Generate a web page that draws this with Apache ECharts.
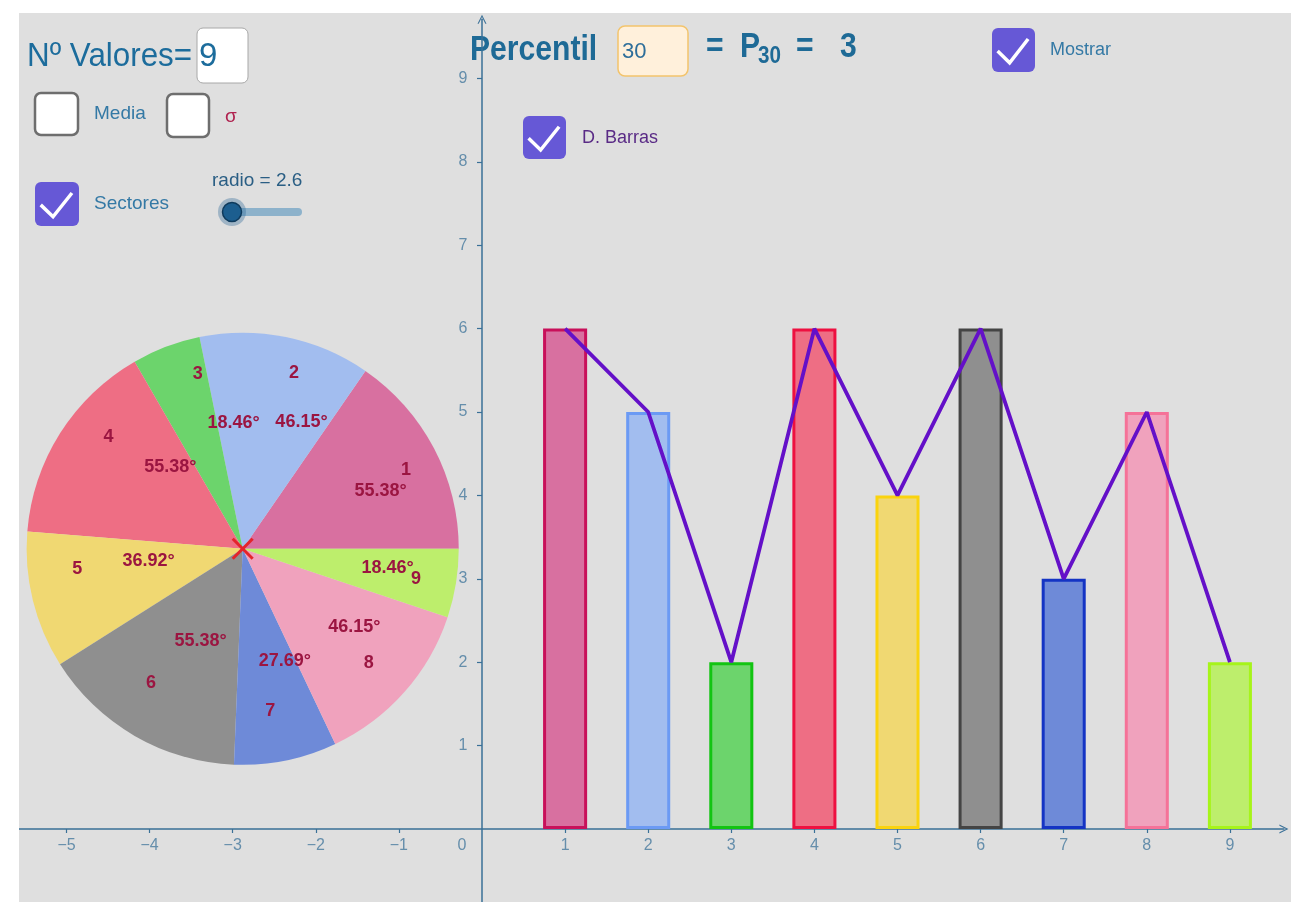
<!DOCTYPE html>
<html>
<head>
<meta charset="utf-8">
<title>Percentil</title>
<script src="https://cdn.jsdelivr.net/npm/echarts@6/dist/echarts.min.js"></script>
<style>
  html, body { margin: 0; padding: 0; background: #fff; }
  #chart { position: absolute; left: 19px; top: 13px; width: 1272px; height: 889px; }
</style>
</head>
<body>
<div id="chart"></div>
<script>
// datos
const categories = [1, 2, 3, 4, 5, 6, 7, 8, 9];
const values = [6, 5, 2, 6, 4, 6, 3, 5, 2];
const fillColors = ['#D870A0', '#A2BDEF', '#6CD46C', '#EE6E84', '#F0D872', '#8F8F8F', '#6E8AD8', '#F0A2BD', '#BDEE6C'];
const borderColors = ['#C8105A', '#6B9AF4', '#12C412', '#EE1040', '#FAD30E', '#444444', '#1434C4', '#F57298', '#A6F41A'];
const xTicks = [-5, -4, -3, -2, -1, 1, 2, 3, 4, 5, 6, 7, 8, 9];
const yTicks = [1, 2, 3, 4, 5, 6, 7, 8, 9];
const pieCenter = [-2.88, 3.36];
const pieRadius = 2.6;
const percentil = 30;

const total = values.reduce((a, b) => a + b, 0);
const sorted = values.slice().sort((a, b) => a - b);
const pValue = sorted[Math.ceil(percentil / 100 * sorted.length) - 1];

// vista (px dentro del panel)
const W = 1272, H = 889;
const ox = 463, oy = 816, ux = 83.1, uy = 83.4;
const xMin = -6, xMax = 9.65, yMin = -1, yMax = 9.71;

const axisColor = '#3A7097';
const labelColor = '#46799D';
const sliceText = '#9B1541';
const sans = '"Liberation Sans", Arial, sans-serif';
const arrow = 'path://M0,12 L6,0 L12,12 L10.4,12 L6,3.2 L1.6,12 Z';
const fmt = v => v < 0 ? '\u2212' + (-v) : String(v);

function renderSlice(params, api) {
  const i = params.dataIndex;
  const c = api.coord(pieCenter);
  const r = api.size([pieRadius, pieRadius])[0];
  let before = 0;
  for (let k = 0; k < i; k++) before += values[k];
  const a0 = before / total * 2 * Math.PI;
  const a1 = (before + api.value(1)) / total * 2 * Math.PI;
  const mid = (a0 + a1) / 2 - 4 * Math.PI / 180;
  const deg = (api.value(1) * 360 / total).toFixed(2) + '°';
  const font = 'bold 18px ' + sans;
  const children = [
    {
      type: 'sector',
      shape: { cx: c[0], cy: c[1], r0: 0, r: r, startAngle: -a0, endAngle: -a1, clockwise: false },
      style: { fill: fillColors[i] }
    },
    {
      type: 'text', z2: 10,
      style: {
        x: c[0] + 0.8 * r * Math.cos(mid), y: c[1] - 0.8 * r * Math.sin(mid),
        text: String(categories[i]), align: 'left', verticalAlign: 'bottom', fill: sliceText, font: font
      }
    },
    {
      type: 'text', z2: 10,
      style: {
        x: c[0] + 0.565 * r * Math.cos(mid), y: c[1] - 0.565 * r * Math.sin(mid),
        text: deg, align: 'left', verticalAlign: 'bottom', fill: sliceText, font: font
      }
    }
  ];
  if (i === values.length - 1) {
    children.push(
      { type: 'line', z2: 20, shape: { x1: c[0] - 10, y1: c[1] - 10, x2: c[0] + 10, y2: c[1] + 10 }, style: { stroke: '#E3242B', lineWidth: 3 } },
      { type: 'line', z2: 20, shape: { x1: c[0] - 10, y1: c[1] + 10, x2: c[0] + 10, y2: c[1] - 10 }, style: { stroke: '#E3242B', lineWidth: 3 } }
    );
  }
  return { type: 'group', children: children };
}

function checkbox(x, y, w, h, checked) {
  const els = [{
    type: 'rect', shape: { x: x, y: y, width: w, height: h, r: 6 },
    style: checked ? { fill: '#6658D6' } : { fill: '#fff', stroke: '#6E6E6E', lineWidth: 2.5 }
  }];
  if (checked) {
    els.push({
      type: 'polyline',
      shape: { points: [[x + w * 0.13, y + h * 0.52], [x + w * 0.41, y + h * 0.79], [x + w * 0.84, y + h * 0.25]] },
      style: { stroke: '#fff', lineWidth: 3.5, fill: 'none' }
    });
  }
  return els;
}

function label(x, y, text, size, color, extra) {
  return Object.assign({
    type: 'text', x: x, y: y,
    style: { text: text, x: 0, y: 0, align: 'left', verticalAlign: 'middle', fill: color, font: size + 'px ' + sans }
  }, extra || {});
}

const bigFont = 'bold 35px ' + sans;
const titleColor = '#1E6A96';

const graphics = [].concat(
  [label(8, 44, 'Nº Valores=', 33, '#1C6C9C', { scaleX: 0.95 })],
  [{ type: 'rect', shape: { x: 178, y: 15, width: 51, height: 55, r: 6 }, style: { fill: '#fff', stroke: '#A8A8A8', lineWidth: 1 } }],
  [label(180, 44, String(categories.length), 33, '#1C6C9C')],
  checkbox(16, 80, 43, 42, false),
  [label(75, 101, 'Media', 19, '#3479A5')],
  checkbox(148, 81, 42, 43, false),
  [label(206, 104, 'σ', 19, '#B02350')],
  checkbox(16, 169, 44, 44, true),
  [label(75, 191, 'Sectores', 19, '#3479A5')],
  [label(193, 168, 'radio = ' + pieRadius, 19, '#2A5E84')],
  [
    { type: 'line', shape: { x1: 213, y1: 199, x2: 279, y2: 199 }, style: { stroke: '#8DB2CB', lineWidth: 8, lineCap: 'round' } },
    { type: 'circle', shape: { cx: 213, cy: 199, r: 14 }, style: { fill: 'rgba(40,100,150,0.35)' } },
    { type: 'circle', shape: { cx: 213, cy: 199, r: 9.5 }, style: { fill: '#1C5E8F', stroke: '#0E3A5C', lineWidth: 1.5 } }
  ],
  [{ type: 'text', x: 451, y: 37, scaleX: 0.86, style: { text: 'Percentil', x: 0, y: 0, verticalAlign: 'middle', fill: titleColor, font: bigFont } }],
  [{ type: 'rect', shape: { x: 599, y: 13, width: 70, height: 50, r: 7 }, style: { fill: '#FFF0DB', stroke: '#F3C46C', lineWidth: 1.5 } }],
  [label(603, 39, String(percentil), 22, '#2E6E9A')],
  [
    { type: 'text', x: 687, y: 34, scaleX: 0.86, style: { text: '=', x: 0, y: 0, verticalAlign: 'middle', fill: titleColor, font: bigFont } },
    { type: 'text', x: 721, y: 34, scaleX: 0.86, style: { text: 'P', x: 0, y: 0, verticalAlign: 'middle', fill: titleColor, font: bigFont } },
    { type: 'text', x: 739, y: 43, scaleX: 0.86, style: { text: String(percentil), x: 0, y: 0, verticalAlign: 'middle', fill: titleColor, font: 'bold 24px ' + sans } },
    { type: 'text', x: 777, y: 34, scaleX: 0.86, style: { text: '=', x: 0, y: 0, verticalAlign: 'middle', fill: titleColor, font: bigFont } },
    { type: 'text', x: 821, y: 34, scaleX: 0.86, style: { text: String(pValue), x: 0, y: 0, verticalAlign: 'middle', fill: titleColor, font: bigFont } }
  ],
  checkbox(973, 15, 43, 44, true),
  [label(1031, 37, 'Mostrar', 18, '#3479A5')],
  checkbox(504, 103, 43, 43, true),
  [label(563, 125, 'D. Barras', 18, '#5A2B86')]
);

// etiquetas de los ejes como series sin símbolo (posicionadas por las escalas)
function tickLabelSeries(data, position, distance) {
  return {
    type: 'scatter',
    data: data,
    symbolSize: 1,
    itemStyle: { color: 'rgba(0,0,0,0)' },
    silent: true,
    z: 5,
    label: {
      show: true, position: position, distance: distance,
      color: labelColor, fontSize: 16, fontFamily: sans,
      formatter: p => fmt(position === 'bottom' ? p.value[0] : p.value[1])
    }
  };
}

const xLabelSeries = tickLabelSeries(xTicks.map(v => [v, 0]), 'bottom', 8);
const yLabelSeries = tickLabelSeries(yTicks.map(v => [0, v]), 'left', 14);
const zeroLabelSeries = tickLabelSeries([[0, 0]], 'bottom', 8);
zeroLabelSeries.label.offset = [-20, 0];

const chart = echarts.init(document.getElementById('chart'));
chart.setOption({
  backgroundColor: '#DFDFDF',
  animation: false,
  grid: {
    left: ox + xMin * ux,
    right: W - (ox + xMax * ux),
    top: oy - yMax * uy,
    bottom: H - (oy - yMin * uy),
    containLabel: false,
    outerBoundsMode: 'none'
  },
  xAxis: {
    type: 'value', min: xMin, max: xMax, interval: 1,
    axisLine: { onZero: true, symbol: ['none', arrow], symbolSize: [10, 9], lineStyle: { color: axisColor, width: 1.5 } },
    axisTick: { customValues: xTicks, length: 4, lineStyle: { color: axisColor, width: 1.2 } },
    axisLabel: { show: false },
    splitLine: { show: false }
  },
  yAxis: {
    type: 'value', min: yMin, max: yMax, interval: 1,
    axisLine: { onZero: true, symbol: ['none', arrow], symbolSize: [10, 9], lineStyle: { color: axisColor, width: 1.5 } },
    axisTick: { customValues: yTicks, length: 5, lineStyle: { color: axisColor, width: 1.2 } },
    axisLabel: { show: false },
    splitLine: { show: false }
  },
  series: [
    {
      type: 'custom',
      renderItem: renderSlice,
      data: values.map((v, i) => [categories[i], v]),
      silent: true,
      z: 2
    },
    {
      type: 'bar',
      barWidth: 0.53 * ux,
      data: categories.map((c, i) => ({
        value: [c, values[i]],
        itemStyle: { color: fillColors[i], borderColor: borderColors[i], borderWidth: 3 }
      })),
      z: 3
    },
    {
      type: 'line',
      data: categories.map((c, i) => [c, values[i]]),
      showSymbol: false,
      lineStyle: { color: '#6410C8', width: 3.8 },
      z: 4
    },
    xLabelSeries,
    yLabelSeries,
    zeroLabelSeries
  ],
  graphic: graphics
});
</script>
</body>
</html>
